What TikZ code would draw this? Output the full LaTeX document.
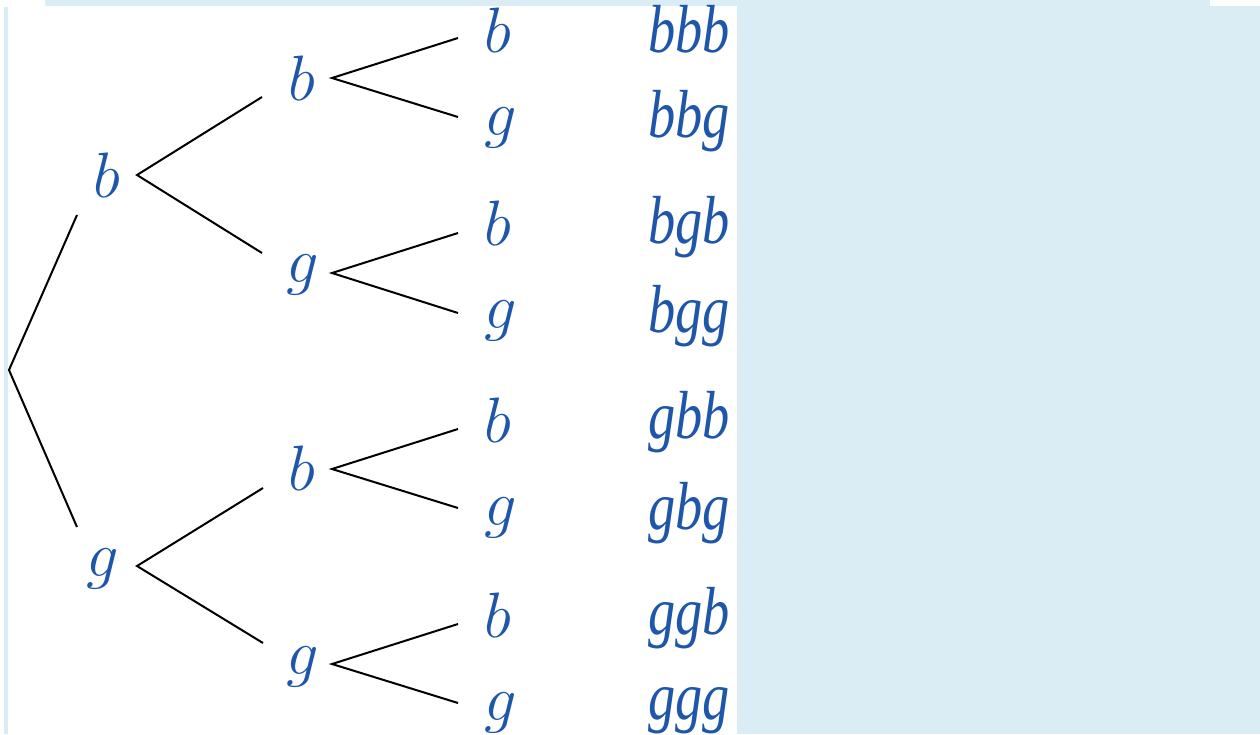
\documentclass[tikz,border=0pt]{standalone}
\usepackage{fontspec}
\newfontfamily\outfont{Liberation Serif}
\definecolor{letterblue}{RGB}{30,86,170}
\definecolor{panelblue}{RGB}{219,237,244}
\tikzset{
  leaf/.style={anchor=base west, inner sep=0pt, text=letterblue,
    font=\fontsize{24.88}{30}\selectfont},
  outcome/.style={anchor=base west, inner sep=0pt, text=letterblue,
    font=\fontsize{68}{68}\selectfont\outfont\itshape},
  branch/.style={draw=black, line width=2pt},
  panel/.style={fill=panelblue, draw=none}
}
% math-italic letter enlarged from its largest design size
\newcommand{\lt}[1]{\scalebox{2.58}{$#1$}}
\newcommand{\oc}[1]{\scalebox{0.8}[1]{#1}}
\begin{document}
\begin{tikzpicture}[x=1pt, y=-1pt]
\useasboundingbox (0,0) rectangle (1260,734);
\fill[white] (0,0) rectangle (1260,734);
% frame strips and side panel
\fill[panel] (45,0) rectangle (1210,6);
\fill[panel] (4,7) rectangle (7.5,734);
\fill[panel] (737,6) rectangle (1260,734);

% first level
\node[leaf] (b) at (93,197) {\lt{b}};
\node[leaf] (g) at (86,576) {\lt{g}};
% second level
\node[leaf] (bb) at (288,100) {\lt{b}};
\node[leaf] (bg) at (286,282) {\lt{g}};
\node[leaf] (gb) at (288,490) {\lt{b}};
\node[leaf] (gg) at (286,674) {\lt{g}};
% third level
\node[leaf] (bbb) at (484,52) {\lt{b}};
\node[leaf] (bbg) at (484,135) {\lt{g}};
\node[leaf] (bgb) at (484,245) {\lt{b}};
\node[leaf] (bgg) at (484,328) {\lt{g}};
\node[leaf] (gbb) at (484,442) {\lt{b}};
\node[leaf] (gbg) at (484,525) {\lt{g}};
\node[leaf] (ggb) at (484,637) {\lt{b}};
\node[leaf] (ggg) at (484,720) {\lt{g}};
% outcomes
\node[outcome] (obbb) at (648,52) {\oc{bbb}};
\node[outcome] (obbg) at (648,137) {\oc{bbg}};
\node[outcome] (obgb) at (648,243) {\oc{bgb}};
\node[outcome] (obgg) at (648,332) {\oc{bgg}};
\node[outcome] (ogbb) at (648,438) {\oc{gbb}};
\node[outcome] (ogbg) at (648,529) {\oc{gbg}};
\node[outcome] (oggb) at (648,634) {\oc{ggb}};
\node[outcome] (oggg) at (648,719) {\oc{ggg}};

% fork points and branch ends
\coordinate (root) at (9,370);
\coordinate (to-b) at (77,215);
\coordinate (to-g) at (77,527);
\coordinate (b-fork) at (137,175);
\coordinate (to-bb) at (262,97);
\coordinate (to-bg) at (262,253);
\coordinate (g-fork) at (137,566);
\coordinate (to-gb) at (263,488);
\coordinate (to-gg) at (263,643);
\coordinate (bb-fork) at (332,78);
\coordinate (to-bbb) at (458,38);
\coordinate (to-bbg) at (458,117);
\coordinate (bg-fork) at (332,273);
\coordinate (to-bgb) at (458,233);
\coordinate (to-bgg) at (458,313);
\coordinate (gb-fork) at (332,469);
\coordinate (to-gbb) at (458,429);
\coordinate (to-gbg) at (458,508);
\coordinate (gg-fork) at (332,664);
\coordinate (to-ggb) at (458,624);
\coordinate (to-ggg) at (458,703);

\draw[branch] (to-b) -- (root) -- (to-g);
\draw[branch] (to-bb) -- (b-fork) -- (to-bg);
\draw[branch] (to-gb) -- (g-fork) -- (to-gg);
\draw[branch] (to-bbb) -- (bb-fork) -- (to-bbg);
\draw[branch] (to-bgb) -- (bg-fork) -- (to-bgg);
\draw[branch] (to-gbb) -- (gb-fork) -- (to-gbg);
\draw[branch] (to-ggb) -- (gg-fork) -- (to-ggg);
\end{tikzpicture}
\end{document}
